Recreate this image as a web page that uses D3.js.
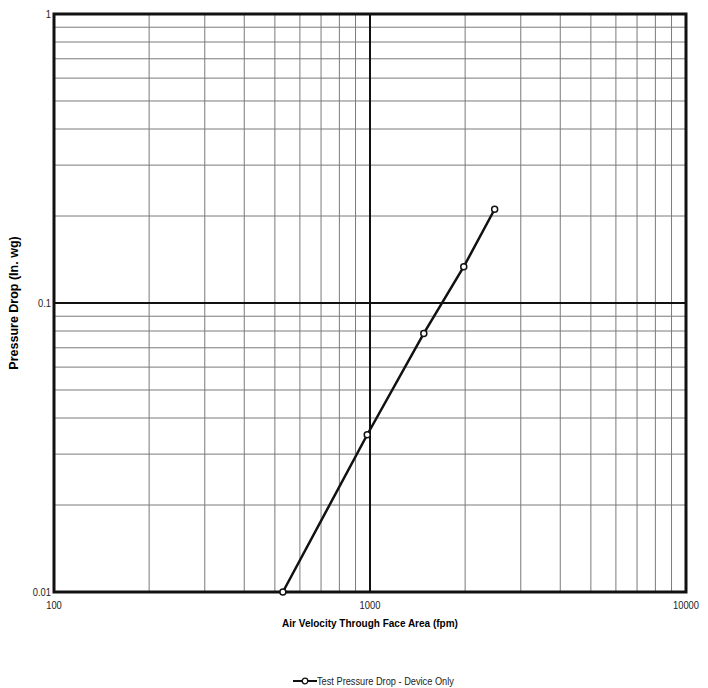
<!DOCTYPE html>
<html>
<head>
<meta charset="utf-8">
<script src="https://cdn.jsdelivr.net/npm/d3@7"></script>
<style>
  body { margin: 0; background: #fff; }
  svg text { font-family: "Liberation Sans Narrow", "Liberation Sans", Arial, sans-serif; }
</style>
</head>
<body>
<svg id="chart" width="708" height="688"></svg>
<script>
// data
const velocity = [530, 980, 1480, 1980, 2480];
const pressure = [0.01, 0.035, 0.0785, 0.1335, 0.211];
const xTickLabels = ["100", "1000", "10000"];
const yTickLabels = ["0.01", "0.1", "1"];
const seriesName = "Test Pressure Drop - Device Only";

const svg = d3.select("#chart");
const margin = { top: 14, right: 22, bottom: 96, left: 54 };
const width = 708 - margin.left - margin.right,
      height = 688 - margin.top - margin.bottom;

const x = d3.scaleLog().domain([100, 10000]).range([0, width]);
const y = d3.scaleLog().domain([0.01, 1]).range([height, 0]);

const g = svg.append("g").attr("transform", `translate(${margin.left},${margin.top})`);

// minor grid
const minorX = [], minorY = [];
[100, 1000].forEach(d => { for (let k = 2; k <= 9; k++) minorX.push(d * k); });
[0.01, 0.1].forEach(d => { for (let k = 2; k <= 9; k++) minorY.push(+(d * k).toFixed(3)); });

g.selectAll(".vminor").data(minorX).enter().append("line")
    .attr("x1", d => x(d)).attr("x2", d => x(d))
    .attr("y1", 0).attr("y2", height)
    .attr("stroke", "#7a7a7a").attr("stroke-width", 1);

g.selectAll(".hminor").data(minorY).enter().append("line")
    .attr("x1", 0).attr("x2", width)
    .attr("y1", d => y(d)).attr("y2", d => y(d))
    .attr("stroke", "#7a7a7a").attr("stroke-width", 1);

// major grid
g.append("line")
    .attr("x1", x(1000)).attr("x2", x(1000))
    .attr("y1", 0).attr("y2", height)
    .attr("stroke", "#111").attr("stroke-width", 2);
g.append("line")
    .attr("x1", 0).attr("x2", width)
    .attr("y1", y(0.1)).attr("y2", y(0.1))
    .attr("stroke", "#111").attr("stroke-width", 2);

// frame
g.append("rect")
    .attr("width", width).attr("height", height)
    .attr("fill", "none").attr("stroke", "#111").attr("stroke-width", 3);

// tick labels (narrowed to mimic a condensed face)
g.selectAll(".xt").data(xTickLabels).enter().append("text")
    .attr("transform", d => `translate(${x(+d)},${height + 17}) scale(0.85,1)`)
    .attr("text-anchor", "middle").attr("font-size", 11).attr("fill", "#222")
    .text(d => d);

g.selectAll(".yt").data(yTickLabels).enter().append("text")
    .attr("transform", d => `translate(-3,${y(+d) + 3.5}) scale(0.85,1)`)
    .attr("text-anchor", "end").attr("font-size", 11).attr("fill", "#222")
    .text(d => d);

// axis titles
g.append("text")
    .attr("x", x(1000)).attr("y", height + 35)
    .attr("text-anchor", "middle").attr("font-size", 10).attr("font-weight", "bold")
    .style("font-family", "'Liberation Sans', Arial, sans-serif")
    .text("Air Velocity  Through Face Area (fpm)");

g.append("text")
    .attr("transform", `translate(${-36},${height / 2}) rotate(-90)`)
    .attr("text-anchor", "middle").attr("font-size", 12.5).attr("font-weight", "bold")
    .style("font-family", "'Liberation Sans', Arial, sans-serif")
    .text("Pressure Drop (In. wg)");

// series
const pts = velocity.map((v, i) => [v, pressure[i]]);
g.append("path")
    .datum(pts)
    .attr("fill", "none").attr("stroke", "#111").attr("stroke-width", 2.5)
    .attr("d", d3.line().x(d => x(d[0])).y(d => y(d[1])));

g.selectAll(".pt").data(pts).enter().append("circle")
    .attr("cx", d => x(d[0])).attr("cy", d => y(d[1])).attr("r", 3)
    .attr("fill", "#fff").attr("stroke", "#111").attr("stroke-width", 1.5);

// legend
const lg = svg.append("g").attr("transform", "translate(293,681)");
lg.append("line").attr("x1", 0).attr("x2", 24).attr("y1", 0).attr("y2", 0)
    .attr("stroke", "#111").attr("stroke-width", 2);
lg.append("circle").attr("cx", 12).attr("cy", 0).attr("r", 2.8)
    .attr("fill", "#fff").attr("stroke", "#111").attr("stroke-width", 1.3);
lg.append("text").attr("transform", "translate(24,4) scale(0.84,1)")
    .attr("font-size", 11).attr("fill", "#222")
    .text(seriesName);
</script>
</body>
</html>
